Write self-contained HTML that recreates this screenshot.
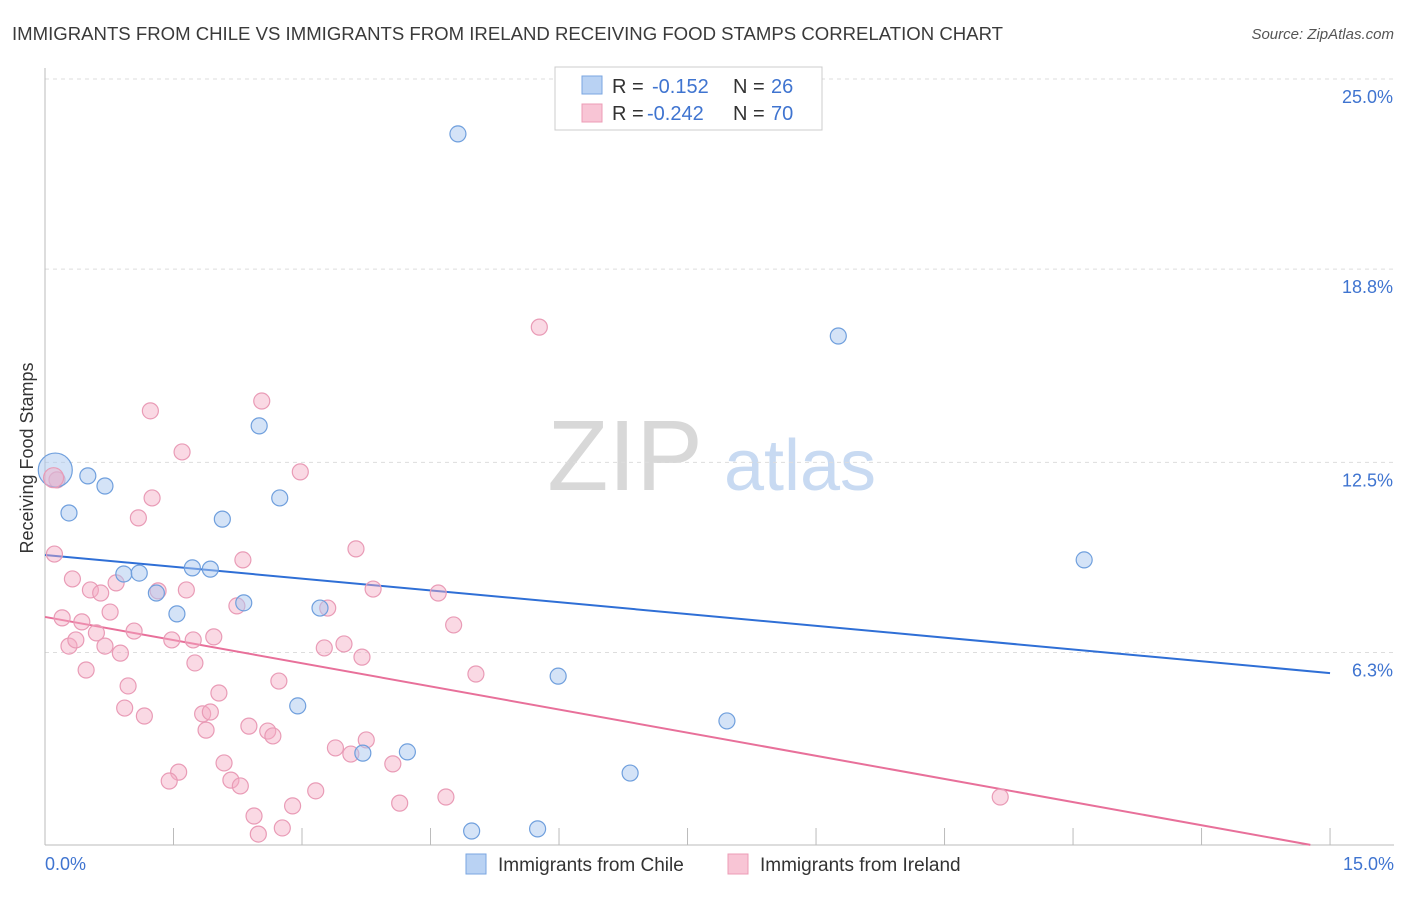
<!DOCTYPE html>
<html><head><meta charset="utf-8"><style>
body{margin:0;background:#fff;font-family:"Liberation Sans",sans-serif}
svg text{font-family:"Liberation Sans",sans-serif}
</style></head><body>
<svg id="chart" width="1406" height="892" xmlns="http://www.w3.org/2000/svg">
<text x="12" y="40" font-size="18" fill="#3a3a3a" textLength="991" lengthAdjust="spacingAndGlyphs">IMMIGRANTS FROM CHILE VS IMMIGRANTS FROM IRELAND RECEIVING FOOD STAMPS CORRELATION CHART</text>
<text x="1394" y="39" font-size="15" fill="#555" text-anchor="end" font-style="italic">Source: ZipAtlas.com</text>
<text transform="translate(33,458) rotate(-90)" font-size="18" fill="#333" text-anchor="middle">Receiving Food Stamps</text>
<g>
<text x="625" y="490" font-size="100" fill="#d8d8d8" text-anchor="middle" font-family="Liberation Serif">ZIP</text>
<text x="800" y="490" font-size="72" fill="#c8daf2" text-anchor="middle">atlas</text>
</g>
<g id="grid"></g>
<g id="axes"></g>
<g id="trend"></g>
<g id="points"></g>
<g>
<rect x="555" y="67" width="267" height="63" fill="#fff" stroke="#ccc"/>
<rect x="582" y="76" width="20" height="18" fill="#b9d2f3" stroke="#7aa6e0"/>
<rect x="582" y="104" width="20" height="18" fill="#f8c5d5" stroke="#ec9cb6"/>
<text x="612" y="93" font-size="20" fill="#333">R = </text><text x="652" y="93" font-size="20" fill="#3f74d0">-0.152</text>
<text x="733" y="93" font-size="20" fill="#333">N = </text><text x="771" y="93" font-size="20" fill="#3f74d0">26</text>
<text x="612" y="120" font-size="20" fill="#333">R = </text><text x="647" y="120" font-size="20" fill="#3f74d0">-0.242</text>
<text x="733" y="120" font-size="20" fill="#333">N = </text><text x="771" y="120" font-size="20" fill="#3f74d0">70</text>
</g>
<g>
<rect x="466" y="854" width="20" height="20" fill="#b9d2f3" stroke="#7aa6e0"/>
<text x="498" y="871" font-size="19" fill="#333">Immigrants from Chile</text>
<rect x="728" y="854" width="20" height="20" fill="#f8c5d5" stroke="#ec9cb6"/>
<text x="760" y="871" font-size="19" fill="#333">Immigrants from Ireland</text>
</g>
</svg>
<script>
const yTicks=[25.0,18.8,12.5,6.3];
const yTickLabels=["25.0%","18.8%","12.5%","6.3%"];
const xTickValues=[0,1.5,3,4.5,6,7.5,9,10.5,12,13.5,15];
const xEndLabels=["0.0%","15.0%"];
const chileX=[4.82,9.26,2.50,0.50,0.70,2.74,0.28,2.07,12.13,0.92,1.10,1.72,1.93,1.30,2.32,1.54,3.21,5.99,2.95,7.96,4.23,3.71,6.83,4.98,5.75];
const chileY=[23.21,16.62,13.69,12.06,11.73,11.34,10.85,10.65,9.32,8.86,8.89,9.06,9.02,8.24,7.92,7.56,7.75,5.53,4.56,4.07,3.06,3.02,2.37,0.48,0.55];
const irelandX=[5.77,2.53,1.23,1.60,2.98,0.14,1.25,1.09,0.11,2.31,3.63,0.32,0.53,0.65,0.83,1.32,1.65,3.83,4.59,0.76,0.20,0.43,2.24,3.30,4.77,0.60,1.04,0.28,0.36,0.70,1.48,1.73,1.97,0.88,3.26,3.49,3.70,1.75,0.48,5.03,2.73,0.97,2.03,0.93,1.16,1.84,1.93,1.88,2.38,2.60,2.66,3.39,3.57,3.75,2.09,4.06,1.56,1.45,2.17,2.28,3.16,4.68,4.14,2.89,11.15,2.44,2.77,2.49];
const irelandY=[16.91,14.50,14.18,12.84,12.19,11.93,11.34,10.69,9.51,9.32,9.68,8.70,8.34,8.24,8.57,8.31,8.34,8.37,8.24,7.62,7.43,7.30,7.82,7.75,7.20,6.94,7.00,6.51,6.71,6.51,6.71,6.71,6.81,6.28,6.45,6.58,6.15,5.96,5.73,5.60,5.37,5.21,4.98,4.49,4.23,4.30,4.36,3.77,3.90,3.74,3.58,3.19,2.99,3.45,2.70,2.67,2.40,2.11,2.14,1.95,1.79,1.59,1.39,1.30,1.59,0.97,0.58,0.38];
const chileTrend=[9.48,5.63];
const irelandTrend=[7.46,0.03,14.77];
const NS="http://www.w3.org/2000/svg";
const X=v=>45+v*85.67, Y=v=>79+(25-v)*30.67;
function mk(tag,attrs,parent){const e=document.createElementNS(NS,tag);for(const k in attrs)e.setAttribute(k,attrs[k]);parent.appendChild(e);return e;}
const grid=document.getElementById('grid'),axes=document.getElementById('axes');
yTicks.forEach((t,i)=>{
 const l=mk('line',{x1:45,x2:1394,y1:Y(t),y2:Y(t),stroke:'#ddd','stroke-dasharray':'4,4'},grid);
 
 
 const tx=mk('text',{x:1393,y:Y(t)+24,'font-size':18,fill:'#3f74d0','text-anchor':'end'},axes);
 tx.textContent=yTickLabels[i];
 
 
});
const ya=mk('line',{x1:45,x2:45,y1:68,y2:845,stroke:'#bbb'},axes);


const xa=mk('line',{x1:45,x2:1394,y1:845,y2:845,stroke:'#bbb'},axes);


xTickValues.forEach(v=>{
 const t=mk('line',{x1:X(v),x2:X(v),y1:828,y2:845,stroke:'#bbb'},axes);
 
 
});
const xl0=mk('text',{x:45,y:870,'font-size':18,fill:'#3f74d0'},axes);xl0.textContent=xEndLabels[0];


const xl1=mk('text',{x:1394,y:870,'font-size':18,fill:'#3f74d0','text-anchor':'end'},axes);xl1.textContent=xEndLabels[1];


const pts=document.getElementById('points');
irelandX.forEach((x,i)=>{
 const c=mk('circle',{cx:X(x),cy:Y(irelandY[i]),r:8,fill:'rgba(245,170,195,0.45)',stroke:'#e99bb6','stroke-width':1.2},pts);
 
 
});
chileX.forEach((x,i)=>{
 const c=mk('circle',{cx:X(x),cy:Y(chileY[i]),r:8,fill:'rgba(170,200,240,0.5)',stroke:'#6f9fdd','stroke-width':1.2},pts);
 
 
});
const big=mk('circle',{cx:X(0.12),cy:Y(12.25),r:17,fill:'rgba(170,200,240,0.5)',stroke:'#6f9fdd','stroke-width':1.2},pts);


const bigP=mk('circle',{cx:X(0.1),cy:Y(12.0),r:10,fill:'rgba(245,170,195,0.45)',stroke:'#e99bb6','stroke-width':1.2},pts);


const tr=document.getElementById('trend');
const tb=mk('line',{x1:X(0),y1:Y(chileTrend[0]),x2:X(15),y2:Y(chileTrend[1]),stroke:'#2f6fd6','stroke-width':2},tr);


const tp=mk('line',{x1:X(0),y1:Y(irelandTrend[0]),x2:X(irelandTrend[2]),y2:Y(irelandTrend[1]),stroke:'#e8709a','stroke-width':2},tr);


</script>
</body></html>
